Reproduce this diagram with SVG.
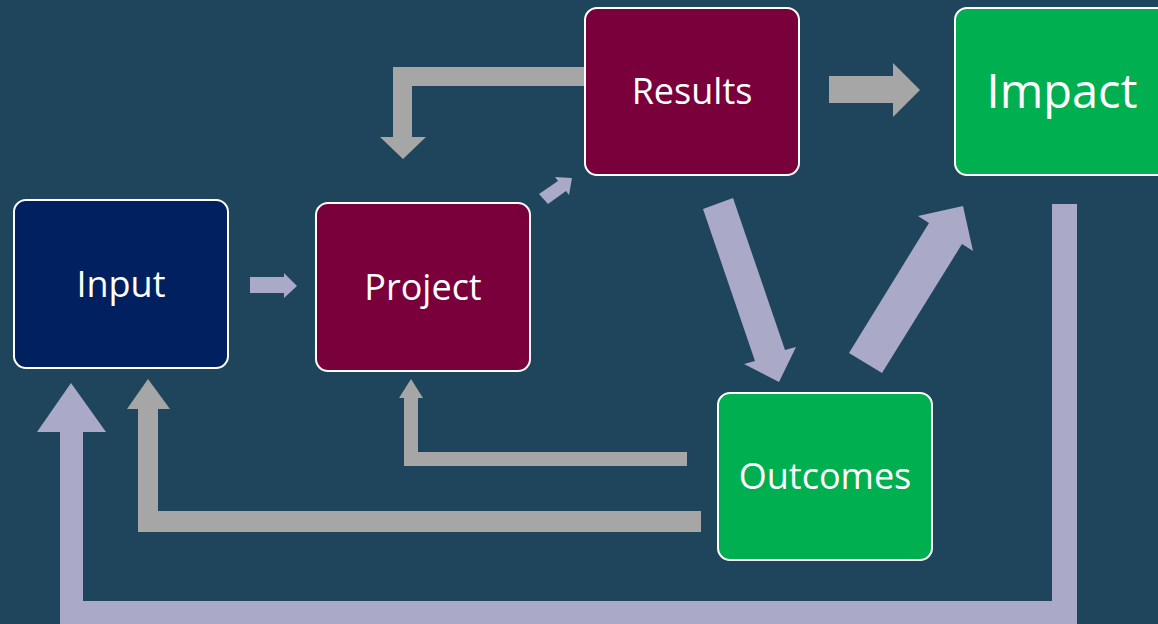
<svg xmlns="http://www.w3.org/2000/svg" width="1158" height="624" viewBox="0 0 1158 624">
  <style>
    .box { stroke: #ffffff; stroke-width: 2; }
    .navy { fill: #002060; }
    .maroon { fill: #7A003C; }
    .green { fill: #00B050; }
    .label { font-family: "Open Sans", "Liberation Sans", sans-serif; fill: #ffffff; text-anchor: middle; font-size: 36px; }
    .big { font-size: 47px; }
    .grey { fill: #A6A6A6; }
    .lav { fill: #AAAAC8; }
  </style>
  <rect width="1158" height="624" fill="#1E455C"/>

  <g id="connectors">
    <!-- Results back to Project (elbow) -->
    <polygon class="grey" points="585,67 585,86 412,86 412,137 426,137 403,159 380,137 393,137 393,67"/>
    <!-- Project to Results -->
    <polygon class="lav" points="548,204 566,191 569,195 572,178 555,177 558,181 539,194"/>
    <!-- Results to Impact -->
    <polygon class="grey" points="829,76 893,76 893,63 920,90 893,117 893,103 829,103"/>
    <!-- Results to Outcomes -->
    <polygon class="lav" points="703,209 733,198 785,350 796,347 779,382 744,364 755,361"/>
    <!-- Outcomes to Impact -->
    <polygon class="lav" points="849,353 929,223 918,216 963,206 973,251 962,244 882,373"/>
    <!-- Input to Project -->
    <polygon class="lav" points="250,277 284,277 284,273 297,286 284,298 284,293 250,293"/>
    <!-- Outcomes back to Project (elbow) -->
    <polygon class="grey" points="687,452 687,466 404,466 404,398 399,398 411,379 423,398 418,398 418,452"/>
    <!-- Outcomes back to Input (elbow) -->
    <polygon class="grey" points="701,511 701,532 138,532 138,409 127,409 148,379 170,409 158,409 158,511"/>
    <!-- Impact back to Input (long loop) -->
    <polygon class="lav" points="1052,204 1077,204 1077,630 60,630 60,432 37,432 71,383 106,432 83,432 83,601 1052,601"/>
  </g>

  <g id="node-input">
    <rect class="box navy" x="14" y="200" width="214" height="168" rx="12"/>
    <text class="label" x="121" y="297">Input</text>
  </g>
  <g id="node-project">
    <rect class="box maroon" x="316" y="203" width="214" height="168" rx="12"/>
    <text class="label" x="423" y="300">Project</text>
  </g>
  <g id="node-results">
    <rect class="box maroon" x="585" y="8" width="214" height="167" rx="12"/>
    <text class="label" x="692" y="104">Results</text>
  </g>
  <g id="node-impact">
    <rect class="box green" x="955" y="8" width="214" height="167" rx="12"/>
    <text class="label big" x="1062" y="108">Impact</text>
  </g>
  <g id="node-outcomes">
    <rect class="box green" x="718" y="393" width="214" height="167" rx="12"/>
    <text class="label" x="825" y="489">Outcomes</text>
  </g>
</svg>
